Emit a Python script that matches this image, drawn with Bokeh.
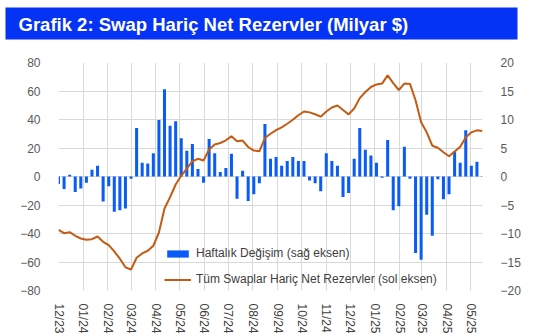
import pandas as pd
from bokeh.plotting import figure
from bokeh.models import Range1d, LinearAxis, FixedTicker, Legend, LegendItem, ColumnDataSource, DatetimeTickFormatter
from bokeh.layouts import column
from bokeh.embed import file_html
from bokeh.resources import INLINE
from bokeh.core.properties import value

TITLE = "Grafik 2: Swap Hariç Net Rezervler (Milyar $)"
BAR_LABEL = "Haftalık Değişim (sağ eksen)"
LINE_LABEL = "Tüm Swaplar Hariç Net Rezervler (sol eksen)"

# weekly observation dates (Fridays)
dates = pd.date_range("2023-12-01", periods=77, freq="7D")

# weekly change, billion $ (right axis)
weekly_change = [
    -1.3, -2.2, 0.3, -2.7, -2.1, -1.1, 1.2, 1.9, -4.4, -1.7,
    -6.2, -5.9, -5.6, -0.4, 8.5, 2.4, 2.3, 4.1, 9.9, 15.3,
    8.9, 9.7, 6.7, 4.5, 5.7, 1.3, -1.1, 6.6, 4.1, 0.8,
    1.5, 4.0, -3.9, 1.0, -4.3, -3.1, -1.2, 9.2, 3.1, 3.4,
    1.9, 2.7, 3.4, 2.7, 2.7, -0.7, -1.2, -2.6, 4.1, 2.7,
    1.9, -3.6, -2.9, 3.1, 8.5, 4.7, 3.7, 2.4, -0.2, 6.4,
    -5.9, -5.2, 5.2, -0.4, -13.4, -14.6, -6.7, -10.4, -0.5, -4.0,
    -3.1, 4.4, 2.4, 8.1, 1.9, 2.6, 0.1,
]

# net reserves excluding all swaps, billion $ (left axis)
net_reserves = [
    -37.4, -39.8, -39.1, -41.6, -43.5, -44.4, -44.0, -42.1, -45.8, -48.1,
    -52.6, -57.7, -63.7, -65.3, -57.0, -54.0, -52.1, -48.6, -39.3, -22.5,
    -14.5, -5.6, 0.5, 5.6, 10.7, 12.4, 11.2, 18.9, 22.4, 23.5,
    25.4, 28.2, 24.7, 25.2, 20.7, 18.2, 17.7, 27.0, 30.0, 32.5,
    34.5, 37.0, 39.8, 43.0, 45.6, 45.0, 43.7, 42.0, 45.6, 48.4,
    49.8, 46.7, 43.6, 47.7, 55.0, 59.3, 62.8, 64.6, 65.2, 71.0,
    65.5, 60.7, 65.2, 65.0, 53.5, 38.0, 31.0, 21.6, 20.2, 17.0,
    14.2, 17.6, 20.8, 27.4, 31.0, 32.4, 32.0,
]

month_ticks = [
    "2023-12-01", "2024-01-01", "2024-02-01", "2024-03-01", "2024-04-01",
    "2024-05-01", "2024-06-01", "2024-07-01", "2024-08-01", "2024-09-01",
    "2024-10-01", "2024-11-01", "2024-12-01", "2025-01-01", "2025-02-01",
    "2025-03-01", "2025-04-01", "2025-05-01",
]
month_labels = [
    "12/23", "01/24", "02/24", "03/24", "04/24", "05/24", "06/24", "07/24",
    "08/24", "09/24", "10/24", "11/24", "12/24", "01/25", "02/25", "03/25",
    "04/25", "05/25",
]
left_ticks = [-80, -60, -40, -20, 0, 20, 40, 60, 80]
right_ticks = [-20, -15, -10, -5, 0, 5, 10, 15, 20]

BLUE_HEADER = "#0533F5"
BAR_BLUE = "#0B5CF7"
LINE_ORANGE = "#C55A11"
GRID = "#D9D9D9"


def ms(d):
    return float(pd.Timestamp(d).value // 10**6)


# ---------- header ----------
header = figure(width=538, height=46, x_range=Range1d(0, 538), y_range=Range1d(46, 0),
                toolbar_location=None, output_backend="svg", min_border=0,
                x_axis_location=None, y_axis_location=None, outline_line_color=None)
if hasattr(header, "frame_align"):
    header.frame_align = False
header.grid.visible = False
header.quad(left=[5], right=[517], top=[7], bottom=[39], fill_color=BLUE_HEADER, line_color=None)
header.text(x=[18], y=[24], text=[TITLE], text_font=value("Liberation Sans"),
            text_font_style="bold", text_font_size="18.5px", text_color="white",
            text_baseline="middle", text_align="left")

# ---------- main chart ----------
src = ColumnDataSource(dict(date=dates, change=weekly_change, reserves=net_reserves))

p = figure(width=538, height=290, x_axis_type="datetime",
           x_range=Range1d(ms("2023-12-01"), ms("2025-05-16")),
           y_range=Range1d(-80, 80),
           toolbar_location=None, output_backend="svg",
           min_border_left=58, min_border_right=56, min_border_top=16, min_border_bottom=45,
           outline_line_color=None)
if hasattr(p, "frame_align"):
    p.frame_align = False
p.extra_y_ranges = {"right": Range1d(-20, 20)}

bar_w = 3.8 * 86400000
bars = p.vbar(x="date", top="change", width=bar_w, source=src, y_range_name="right",
              fill_color=BAR_BLUE, line_color=None)
line = p.line(x="date", y="reserves", source=src, line_color=LINE_ORANGE, line_width=2)

tick_ms = [ms(d) for d in month_ticks]
p.xaxis.ticker = FixedTicker(ticks=tick_ms)
p.xaxis.formatter = DatetimeTickFormatter(days="%m/%y", months="%m/%y", years="%m/%y")
p.xaxis.major_label_overrides = {t: l for t, l in zip(tick_ms, month_labels)}
p.xaxis.major_label_orientation = "vertical"
p.yaxis.ticker = FixedTicker(ticks=left_ticks)

raxis = LinearAxis(y_range_name="right", ticker=FixedTicker(ticks=right_ticks))
p.add_layout(raxis, "right")

for ax in p.axis:
    ax.axis_line_color = None
    ax.major_tick_line_color = None
    ax.minor_tick_line_color = None
    ax.major_label_text_font = "Liberation Sans"
    ax.major_label_text_font_size = "12px"
    ax.major_label_standoff = 12
p.yaxis.major_label_text_color = "#595959"
p.xaxis.major_label_text_color = "#404040"
p.xaxis.major_label_standoff = 7

p.xgrid.grid_line_color = GRID
p.ygrid.grid_line_color = GRID

legend = Legend(items=[LegendItem(label=BAR_LABEL, renderers=[bars]),
                       LegendItem(label=LINE_LABEL, renderers=[line])],
                location=(106, 1), orientation="vertical",
                glyph_width=27, glyph_height=9, label_height=20, spacing=6,
                padding=3, margin=0, label_standoff=5,
                background_fill_alpha=0, border_line_color=None,
                label_text_font="Liberation Sans", label_text_font_size="12px",
                label_text_color="#404040")
p.add_layout(legend)

layout = column(header, p, spacing=0)
open("out.html", "w").write(file_html(layout, INLINE))
